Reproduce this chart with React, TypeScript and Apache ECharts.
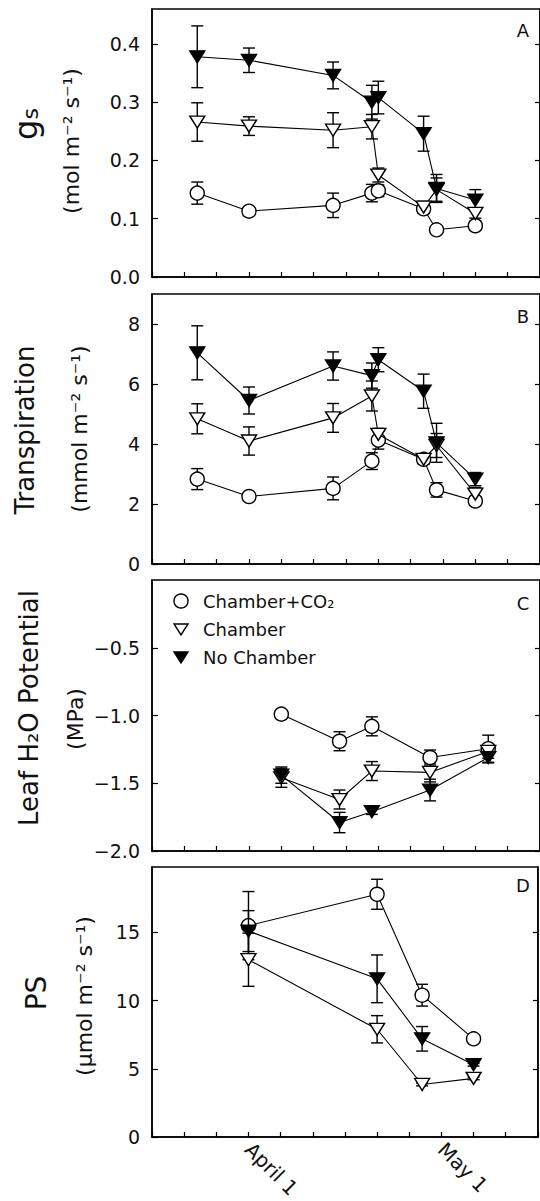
import React, { useEffect, useRef } from "react";
import * as echarts from "echarts";

const FONT = '"DejaVu Sans", "Liberation Sans", sans-serif';

// x axis: days relative to April 1
const xMin = -15;
const xMax = 45;
const xStep = 5;
const xTickLabels: Record<number, string> = { 0: "April 1", 30: "May 1" };
const seriesNames = ["Chamber+CO\u2082", "Chamber", "No Chamber"];

// Panel A: stomatal conductance gs (mol m-2 s-1)
const gsDays = [-8, 0, 13, 19, 20, 27, 29, 35];
const gsCO2 = [0.144, 0.113, 0.123, 0.144, 0.148, 0.117, 0.081, 0.088];
const gsCO2Err = [0.019, 0.005, 0.021, 0.015, 0.01, 0.008, 0.005, 0.008];
const gsChamber = [0.266, 0.259, 0.252, 0.258, 0.175, 0.12, 0.15, 0.109];
const gsChamberErr = [0.033, 0.016, 0.03, 0.021, 0.012, 0.01, 0.02, 0.008];
const gsNoChamber = [0.378, 0.372, 0.346, 0.3, 0.308, 0.246, 0.152, 0.132];
const gsNoChamberErr = [0.053, 0.021, 0.023, 0.029, 0.028, 0.03, 0.024, 0.018];

// Panel B: transpiration (mmol m-2 s-1)
const trDays = [-8, 0, 13, 19, 20, 27, 29, 35];
const trCO2 = [2.83, 2.25, 2.52, 3.43, 4.13, 3.49, 2.47, 2.1];
const trCO2Err = [0.35, 0.08, 0.38, 0.28, 0.3, 0.15, 0.24, 0.15];
const trChamber = [4.84, 4.1, 4.87, 5.6, 4.32, 3.49, 3.95, 2.33];
const trChamberErr = [0.5, 0.47, 0.48, 0.5, 0.2, 0.15, 0.4, 0.22];
const trNoChamber = [7.04, 5.45, 6.6, 6.28, 6.81, 5.76, 4.04, 2.83];
const trNoChamberErr = [0.9, 0.45, 0.47, 0.42, 0.4, 0.57, 0.65, 0.22];

// Panel C: leaf water potential (MPa)
const lwpDays = [5, 14, 19, 28, 37];
const lwpCO2 = [-0.99, -1.19, -1.08, -1.31, -1.245];
const lwpCO2Err = [0.02, 0.07, 0.07, 0.055, 0.1];
const lwpChamber = [-1.46, -1.62, -1.41, -1.42, -1.265];
const lwpChamberErr = [0.07, 0.07, 0.07, 0.07, 0.05];
const lwpNoChamber = [-1.44, -1.79, -1.71, -1.55, -1.31];
const lwpNoChamberErr = [0.06, 0.075, 0.02, 0.08, 0.04];

// Panel D: photosynthesis (umol m-2 s-1)
const psDays = [0, 20, 27, 35];
const psCO2 = [15.5, 17.8, 10.4, 7.2];
const psCO2Err = [2.5, 1.1, 0.8, 0.2];
const psChamber = [13.0, 7.9, 3.85, 4.3];
const psChamberErr = [1.95, 1.0, 0.1, 0.1];
const psNoChamber = [15.1, 11.6, 7.2, 5.3];
const psNoChamberErr = [1.5, 1.75, 0.9, 0.1];

const gsTicks = [0, 0.1, 0.2, 0.3, 0.4];
const trTicks = [0, 2, 4, 6, 8];
const lwpTicks = [-2.0, -1.5, -1.0, -0.5];
const psTicks = [0, 5, 10, 15];

const minus = (s: string) => s.replace("-", "\u2212");

const panels = [
  {
    top: 9, height: 268, min: 0, max: 0.46, interval: 0.1, ticks: gsTicks,
    fmt: (v: number) => v.toFixed(1), days: gsDays,
    groups: [[gsCO2, gsCO2Err], [gsChamber, gsChamberErr], [gsNoChamber, gsNoChamberErr]],
    letter: "A", letterY: 30,
  },
  {
    top: 294, height: 270, min: 0, max: 9, interval: 2, ticks: trTicks,
    fmt: (v: number) => String(v), days: trDays,
    groups: [[trCO2, trCO2Err], [trChamber, trChamberErr], [trNoChamber, trNoChamberErr]],
    letter: "B", letterY: 316,
  },
  {
    top: 580, height: 271, min: -2, max: 0, interval: 0.5, ticks: lwpTicks,
    fmt: (v: number) => minus(v.toFixed(1)), days: lwpDays,
    groups: [[lwpCO2, lwpCO2Err], [lwpChamber, lwpChamberErr], [lwpNoChamber, lwpNoChamberErr]],
    letter: "C", letterY: 603,
  },
  {
    top: 867, height: 272, min: 0, max: 19.8, interval: 5, ticks: psTicks,
    fmt: (v: number) => String(v), days: psDays,
    groups: [[psCO2, psCO2Err], [psChamber, psChamberErr], [psNoChamber, psNoChamberErr]],
    letter: "D", letterY: 885,
  },
];

const markerStyles = [
  { symbol: "circle", size: 14 as any, rotate: 0, fill: "#fff" },
  { symbol: "triangle", size: [15, 12] as any, rotate: 180, fill: "#fff" },
  { symbol: "triangle", size: [15, 12] as any, rotate: 180, fill: "#000" },
];

const errorRender = (params: any, api: any) => {
  const x = api.value(0);
  const top = api.coord([x, api.value(2)]);
  const bot = api.coord([x, api.value(1)]);
  const hw = 6;
  const st = { stroke: "#000", lineWidth: 1.4 };
  return {
    type: "group",
    children: [
      { type: "line", shape: { x1: top[0], y1: top[1], x2: bot[0], y2: bot[1] }, style: st },
      { type: "line", shape: { x1: top[0] - hw, y1: top[1], x2: top[0] + hw, y2: top[1] }, style: st },
      { type: "line", shape: { x1: bot[0] - hw, y1: bot[1], x2: bot[0] + hw, y2: bot[1] }, style: st },
    ],
  };
};

const rotText = (x: number, y: number, text: string, size: number, rich?: any) => ({
  type: "text",
  x,
  y,
  rotation: Math.PI / 2,
  style: {
    text,
    fontSize: size,
    fontFamily: FONT,
    fill: "#111",
    align: "center",
    verticalAlign: "middle",
    textAlign: "center",
    textVerticalAlign: "middle",
    rich,
  },
});

const App = () => {
  const ref = useRef<HTMLDivElement>(null);
  useEffect(() => {
    const chart = echarts.init(ref.current!, null, { renderer: "svg" });
    const axisLine = { show: true, onZero: false, lineStyle: { color: "#000", width: 1.5 } };
    const grids: any[] = [];
    const xAxes: any[] = [];
    const yAxes: any[] = [];
    const series: any[] = [];
    panels.forEach((p, i) => {
      grids.push({
        left: 152, top: p.top, width: 390, height: p.height,
        show: true, borderColor: "#000", borderWidth: 1.5, backgroundColor: "transparent",
      });
      xAxes.push({
        gridIndex: i, type: "value", min: xMin, max: xMax, interval: xStep, position: "bottom",
        axisLine, splitLine: { show: false },
        axisTick: { show: true, inside: true, length: 5, lineStyle: { color: "#000", width: 1.2 } },
        axisLabel: i === 3
          ? {
              show: true, rotate: -45, margin: 9, fontSize: 20, fontFamily: FONT, color: "#111",
              formatter: (v: number) => xTickLabels[v] ?? "", hideOverlap: false,
            }
          : { show: false },
      });
      yAxes.push({
        gridIndex: i, type: "value", min: p.min, max: p.max, interval: p.interval, position: "left",
        axisLine, splitLine: { show: false },
        axisTick: { show: true, inside: true, length: 6, customValues: p.ticks, lineStyle: { color: "#000", width: 1.2 } },
        axisLabel: {
          show: true, margin: 12, fontSize: 19, fontFamily: FONT, color: "#111",
          customValues: p.ticks,
          formatter: (v: number) => (p.ticks.some((t) => Math.abs(t - v) < 1e-9) ? p.fmt(v) : ""),
        },
      });
      yAxes.push({
        gridIndex: i, type: "value", min: p.min, max: p.max, interval: p.interval, position: "right",
        axisLine, splitLine: { show: false },
        axisTick: { show: true, inside: true, length: 5, customValues: p.ticks, lineStyle: { color: "#000", width: 1.2 } },
        axisLabel: { show: false },
      });
      p.groups.forEach((g, k) => {
        const [vals, errs] = g;
        const ms = markerStyles[k];
        series.push({
          type: "custom",
          name: seriesNames[k] + " error",
          xAxisIndex: i, yAxisIndex: i * 2,
          renderItem: errorRender,
          encode: { x: 0, y: [1, 2] },
          data: p.days.map((d, j) => [d, vals[j] - errs[j], vals[j] + errs[j]]),
          z: 2 + k,
          silent: true,
        });
        series.push({
          type: "line",
          name: seriesNames[k],
          xAxisIndex: i, yAxisIndex: i * 2,
          data: p.days.map((d, j) => [d, vals[j]]),
          symbol: ms.symbol,
          symbolSize: ms.size,
          symbolRotate: ms.rotate,
          showAllSymbol: true,
          lineStyle: { color: "#000", width: 1.1 },
          itemStyle: { color: ms.fill, borderColor: "#000", borderWidth: 1.4 },
          z: 3 + k,
          silent: true,
        });
      });
    });

    const graphic: any[] = [
      rotText(30, 124, "{g|g}{s|s}", 30, {
        g: { fontSize: 32, fontFamily: FONT, fill: "#111", padding: [0, 0, 8, 0] },
        s: { fontSize: 22, fontFamily: FONT, fill: "#111" },
      }),
      rotText(71, 141, "(mol m\u207B\u00B2 s\u207B\u00B9)", 22),
      rotText(25, 430, "Transpiration", 26),
      rotText(79, 429, "(mmol m\u207B\u00B2 s\u207B\u00B9)", 22),
      rotText(29, 708, "Leaf H\u2082O Potential", 26),
      rotText(75, 719, "(MPa)", 22),
      rotText(36, 993, "PS", 28),
      rotText(84, 996, "(\u03BCmol m\u207B\u00B2 s\u207B\u00B9)", 22),
    ];
    panels.forEach((p) => {
      graphic.push({
        type: "text", x: 523, y: p.letterY,
        style: { text: p.letter, fontSize: 18, fontFamily: FONT, fill: "#111", align: "center", verticalAlign: "middle", textAlign: "center", textVerticalAlign: "middle" },
      });
    });
    // legend (panel C)
    const legX = 181;
    const legY = [601, 629, 657];
    graphic.push({ type: "circle", shape: { cx: legX, cy: legY[0], r: 7 }, style: { fill: "#fff", stroke: "#000", lineWidth: 1.4 } });
    graphic.push({ type: "polygon", shape: { points: [[legX - 7, legY[1] - 5], [legX + 7, legY[1] - 5], [legX, legY[1] + 6]] }, style: { fill: "#fff", stroke: "#000", lineWidth: 1.4 } });
    graphic.push({ type: "polygon", shape: { points: [[legX - 7, legY[2] - 5], [legX + 7, legY[2] - 5], [legX, legY[2] + 6]] }, style: { fill: "#000", stroke: "#000", lineWidth: 1.4 } });
    seriesNames.forEach((n, k) => {
      graphic.push({
        type: "text", x: 203, y: legY[k],
        style: { text: n, fontSize: 18, fontFamily: FONT, fill: "#111", align: "left", verticalAlign: "middle", textAlign: "left", textVerticalAlign: "middle" },
      });
    });

    chart.setOption({
      animation: false,
      backgroundColor: "#fff",
      grid: grids,
      xAxis: xAxes,
      yAxis: yAxes,
      series,
      graphic,
    });
    return () => chart.dispose();
  }, []);
  return (
    <div
      ref={ref}
      style={{ position: "absolute", left: 0, top: 0, width: 540, height: 1201, background: "#fff" }}
    />
  );
};

export default App;
